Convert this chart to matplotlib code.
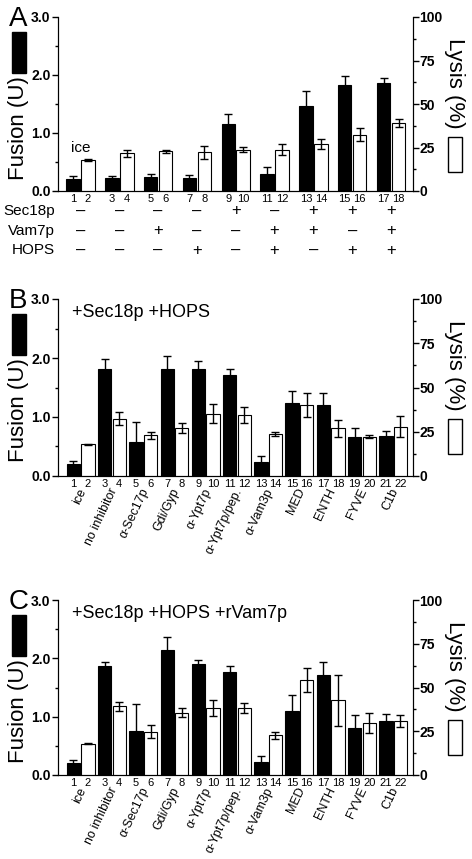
import matplotlib
matplotlib.use('Agg')
from matplotlib import pyplot as plt
from matplotlib.patches import Rectangle
from matplotlib.transforms import blended_transform_factory

plt.rcParams['font.family'] = ['Liberation Sans', 'DejaVu Sans']

# panel A: 9 conditions, fusion (U) and lysis (%)
fusion_a = [0.21, 0.22, 0.24, 0.22, 1.15, 0.30, 1.46, 1.82, 1.87]
fusion_a_err = [0.05, 0.04, 0.06, 0.06, 0.18, 0.11, 0.26, 0.17, 0.07]
lysis_a = [17.8, 21.6, 22.8, 22.2, 23.8, 23.8, 27.0, 32.4, 39.0]
lysis_a_err = [0.5, 2.0, 1.0, 3.8, 1.5, 3.0, 2.6, 3.8, 2.5]
sec18p = ['-', '-', '-', '-', '+', '-', '+', '+', '+']
vam7p = ['-', '-', '+', '-', '-', '+', '+', '-', '+']
hops = ['-', '-', '-', '+', '-', '+', '-', '+', '+']

# panels B and C: 11 conditions
inhibitors = ['ice', 'no inhibitor', '\u03b1-Sec17p', 'Gdi/Gyp', '\u03b1-Ypt7p',
              '\u03b1-Ypt7p/pep.', '\u03b1-Vam3p', 'MED', 'ENTH', 'FYVE', 'C1b']

fusion_b = [0.21, 1.81, 0.58, 1.81, 1.81, 1.71, 0.24, 1.23, 1.21, 0.66, 0.67]
fusion_b_err = [0.05, 0.18, 0.34, 0.23, 0.14, 0.10, 0.10, 0.21, 0.19, 0.16, 0.10]
lysis_b = [17.9, 32.4, 22.9, 27.2, 35.2, 34.3, 23.6, 40.2, 26.9, 22.3, 27.8]
lysis_b_err = [0.4, 3.6, 2.0, 3.0, 5.2, 4.5, 1.0, 6.8, 5.0, 0.6, 5.9]

fusion_c = [0.21, 1.87, 0.75, 2.14, 1.90, 1.77, 0.23, 1.09, 1.72, 0.81, 0.92]
fusion_c_err = [0.04, 0.07, 0.46, 0.22, 0.07, 0.10, 0.10, 0.28, 0.21, 0.22, 0.13]
lysis_c = [17.9, 39.3, 24.8, 35.5, 38.5, 38.4, 22.7, 54.2, 42.7, 29.8, 30.9]
lysis_c_err = [0.4, 2.7, 3.8, 2.6, 4.6, 3.0, 2.1, 7.0, 14.6, 5.8, 3.5]

W, H = 472, 859
fig = plt.figure(figsize=(W / 100, H / 100), dpi=100)


def fx(x):
    return x / W


def fy(y):
    return 1 - y / H


def panel(top, bottom, letter, fusion, fusion_err, lysis, lysis_err, spacing, width, left_pad, right_pad):
    ax = fig.add_axes([fx(57.5), fy(bottom), fx(412.5 - 57.5), (bottom - top) / H])
    n = len(fusion)
    xb = [spacing * i for i in range(n)]
    xw = [spacing * i + 1 for i in range(n)]
    ax.bar(xb, fusion, width, color='black', edgecolor='black', linewidth=0.8, zorder=2)
    ax.errorbar(xb, fusion, yerr=fusion_err, fmt='none', ecolor='black', elinewidth=1,
                capsize=3, capthick=1, zorder=3)
    ax.set_xlim(-left_pad, xw[-1] + right_pad)
    ax.set_ylim(0, 3)
    ax.set_yticks([0, 1, 2, 3], ['0.0', '1.0', '2.0', '3.0'], fontweight='bold', fontsize=10)
    ax.set_yticks([0.5, 1.5, 2.5], minor=True)
    ax.tick_params(axis='y', which='major', length=4, width=1, pad=1)
    ax.tick_params(axis='y', which='minor', length=2, width=1)
    ticks = []
    for i in range(n):
        ticks += [xb[i], xw[i]]
    ax.set_xticks(ticks, [str(i + 1) for i in range(2 * n)], fontsize=8)
    ax.tick_params(axis='x', length=0, pad=2)
    ax.spines['top'].set_visible(False)

    ax2 = ax.twinx()
    ax2.bar(xw, lysis, width, color='white', edgecolor='black', linewidth=0.8, zorder=2)
    ax2.errorbar(xw, lysis, yerr=lysis_err, fmt='none', ecolor='black', elinewidth=1,
                 capsize=3, capthick=1, zorder=3)
    ax2.set_ylim(0, 100)
    ax2.set_yticks([0, 25, 50, 75, 100], ['0', '25', '50', '75', '100'], fontweight='bold', fontsize=10)
    ax2.set_yticks([12.5, 37.5, 62.5, 87.5], minor=True)
    ax2.tick_params(axis='y', which='major', length=4, width=1, pad=1)
    ax2.tick_params(axis='y', which='minor', length=2, width=1)
    ax2.spines['top'].set_visible(False)

    # axis titles with legend boxes
    fig.text(fx(19), fy(top + 111), 'Fusion (U)', rotation=90, ha='center', va='center', fontsize=16)
    fig.patches.append(Rectangle((fx(12), fy(top + 56)), fx(14), 41 / H, transform=fig.transFigure,
                                 facecolor='black', edgecolor='black'))
    fig.text(fx(455), fy(top + 66), 'Lysis (%)', rotation=270, ha='center', va='center', fontsize=16)
    fig.patches.append(Rectangle((fx(448), fy(top + 155)), fx(14), 35 / H, transform=fig.transFigure,
                                 facecolor='white', edgecolor='black', linewidth=1))
    fig.text(fx(9), fy(top - 11), letter, ha='left', va='top', fontsize=20)
    return ax, xb, xw


# panel A
ax_a, xb_a, xw_a = panel(17, 191, 'A', fusion_a, fusion_a_err, lysis_a, lysis_a_err,
                         2.59, 0.9, 1.03, 0.93)
ax_a.text((xb_a[0] + xw_a[0]) / 2, 0.74, 'ice', ha='center', va='center', fontsize=11)
tr = blended_transform_factory(ax_a.transData, fig.transFigure)
for row_y, name, signs in [(211, 'Sec18p', sec18p), (231, 'Vam7p', vam7p), (250, 'HOPS', hops)]:
    fig.text(fx(55), fy(row_y), name, ha='right', va='center', fontsize=11)
    for i, s in enumerate(signs):
        ax_a.text((xb_a[i] + xw_a[i]) / 2, fy(row_y), '+' if s == '+' else '\u2013',
                  transform=tr, ha='center', va='center', fontsize=12, clip_on=False)

# panels B and C
for top, bottom, letter, fus, fus_err, lys, lys_err, note in [
        (299, 476, 'B', fusion_b, fusion_b_err, lysis_b, lysis_b_err, '+Sec18p +HOPS'),
        (600, 775, 'C', fusion_c, fusion_c_err, lysis_c, lysis_c_err, '+Sec18p +HOPS +rVam7p')]:
    ax, xb, xw = panel(top, bottom, letter, fus, fus_err, lys, lys_err, 2.15, 0.92, 1.1, 0.83)
    ax.text(0.04, 0.97, note, transform=ax.transAxes, ha='left', va='top', fontsize=13)
    trb = blended_transform_factory(ax.transData, fig.transFigure)
    for i, lab in enumerate(inhibitors):
        ax.text((xb[i] + xw[i]) / 2 + 0.15, fy(bottom + 13), lab, transform=trb, rotation=65,
                rotation_mode='anchor', ha='right', va='center', fontsize=9, clip_on=False)

fig.savefig('out.png', dpi=100)
